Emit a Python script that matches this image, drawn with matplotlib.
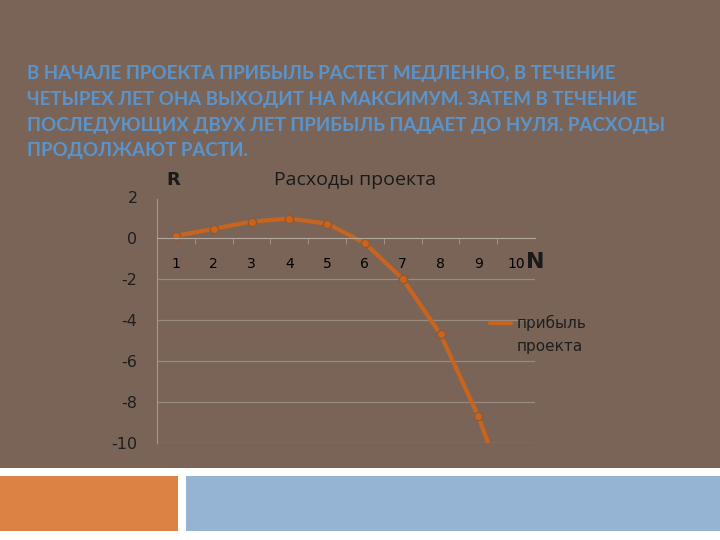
import matplotlib
matplotlib.use("Agg")
import matplotlib.pyplot as plt
from matplotlib.patches import Rectangle

years = [1, 2, 3, 4, 5, 6, 7, 8, 9, 10]
profit = [0.1, 0.45, 0.8, 0.95, 0.7, -0.25, -2.0, -4.7, -8.7, -13.7]
yticks = [2, 0, -2, -4, -6, -8, -10]

heading = ("В НАЧАЛЕ ПРОЕКТА ПРИБЫЛЬ РАСТЕТ МЕДЛЕННО, В ТЕЧЕНИЕ\n"
           "ЧЕТЫРЕХ ЛЕТ ОНА ВЫХОДИТ НА МАКСИМУМ. ЗАТЕМ В ТЕЧЕНИЕ\n"
           "ПОСЛЕДУЮЩИХ ДВУХ ЛЕТ ПРИБЫЛЬ ПАДАЕТ ДО НУЛЯ. РАСХОДЫ\n"
           "ПРОДОЛЖАЮТ РАСТИ.")

BG = "#7a6457"
fig = plt.figure(figsize=(7.2, 5.4), dpi=100, facecolor="white")
fig.add_artist(Rectangle((0, 1 - 468 / 540), 1, 468 / 540, transform=fig.transFigure,
                         facecolor=BG, edgecolor="none", zorder=0))
fig.add_artist(Rectangle((0, 1 - 531 / 540), 178 / 720, 55 / 540, transform=fig.transFigure,
                         facecolor="#dc8244", edgecolor="none", zorder=0))
fig.add_artist(Rectangle((186 / 720, 1 - 531 / 540), 534 / 720, 55 / 540, transform=fig.transFigure,
                         facecolor="#95b3d3", edgecolor="none", zorder=0))

fig.text(27 / 720, 1 - 65 / 540, heading, ha="left", va="top", color="#5a94cc",
         fontsize=13.5, fontweight="bold", family="Lato",
         linespacing=1.63)

ax = fig.add_axes([157 / 720, 1 - 443 / 540, 378 / 720, 246 / 540])
ax.set_facecolor("none")
line, = ax.plot(years, profit, color="#c8641e", lw=3, marker="o", ms=6,
                markerfacecolor="#c8641e", markeredgecolor="#8a5a3a", label="прибыль",
                solid_capstyle="round", clip_on=True)
ax.set_xlim(0.5, 10.5)
ax.set_ylim(-10, 2)
ax.set_yticks(yticks)
ax.set_yticklabels([str(t) for t in yticks], color="#1e1e1e", fontsize=11.5)
ax.tick_params(axis="y", length=0, pad=14)
ax.set_xticks(years)
ax.set_xticklabels([str(y) for y in years], color="#1e1e1e", fontsize=11.5,
                   family="DejaVu Serif")
ax.tick_params(axis="x", length=0, pad=14)
ax.set_xticks([i + 0.5 for i in range(10)], minor=True)
ax.tick_params(axis="x", which="minor", length=4, color="#a89a90", direction="out")
for y in [-2, -4, -6, -8, -10]:
    ax.axhline(y, color="#988a80", lw=0.9, zorder=0)
for s in ["top", "right"]:
    ax.spines[s].set_visible(False)
ax.spines["bottom"].set_position(("data", 0))
ax.spines["bottom"].set_color("#b4a79e")
ax.spines["left"].set_color("#a89a90")
ax.spines["left"].set_bounds(-10, 1.9)

fig.text(355 / 720, 1 - 180 / 540, "Расходы проекта", ha="center", va="center",
         fontsize=14, color="#1a1a1a", family="Open Sans")
fig.text(173 / 720, 1 - 180 / 540, "R", ha="center", va="center",
         fontsize=13, fontweight="bold", color="#1a1a1a")
fig.text(535 / 720, 1 - 262 / 540, "N", ha="center", va="center",
         fontsize=16, fontweight="bold", color="#1a1a1a")

leg = fig.legend(handles=[line], loc="center left", bbox_to_anchor=(490 / 720, 1 - 323 / 540),
                 frameon=False, fontsize=11, handlelength=1.4, handletextpad=0.35,
                 labelcolor="#1e1e1e", borderpad=0, borderaxespad=0)
for h in leg.legend_handles:
    h.set_marker("")
fig.text(517 / 720, 1 - 346 / 540, "проекта", ha="left", va="center",
         fontsize=11, color="#1e1e1e")

fig.savefig("out.png", dpi=100, facecolor="white")
